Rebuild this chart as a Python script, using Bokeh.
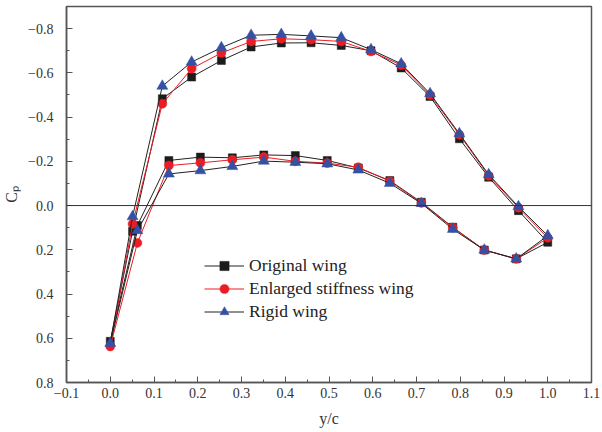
from bokeh.plotting import figure
from bokeh.models import (Range1d, FixedTicker, Span, Legend, LegendItem)
from bokeh.embed import file_html
from bokeh.resources import INLINE

# ---------------- data ----------------
x_upper = [0.0, 0.051, 0.119, 0.186, 0.254, 0.322, 0.391, 0.459, 0.528,
           0.596, 0.665, 0.731, 0.798, 0.865, 0.933, 1.0]
x_lower = [0.062, 0.134, 0.206, 0.279, 0.351, 0.423, 0.496, 0.567,
           0.639, 0.711, 0.783, 0.855, 0.928]

orig_upper = [0.614, 0.116, -0.483, -0.581, -0.656, -0.717, -0.735, -0.736,
              -0.724, -0.700, -0.622, -0.493, -0.302, -0.128, 0.023, 0.166]
orig_lower = [0.090, -0.204, -0.219, -0.216, -0.229, -0.226, -0.204, -0.170,
              -0.113, -0.015, 0.098, 0.201, 0.241]

enl_upper = [0.637, 0.083, -0.460, -0.619, -0.690, -0.742, -0.754, -0.750,
             -0.742, -0.697, -0.635, -0.500, -0.320, -0.135, 0.010, 0.146]
enl_lower = [0.169, -0.181, -0.193, -0.207, -0.219, -0.200, -0.192, -0.173,
             -0.110, -0.012, 0.100, 0.201, 0.241]

rig_upper = [0.623, 0.050, -0.540, -0.649, -0.714, -0.770, -0.774, -0.767,
             -0.759, -0.705, -0.641, -0.506, -0.325, -0.140, 0.005, 0.136]
rig_lower = [0.113, -0.143, -0.158, -0.177, -0.201, -0.196, -0.189, -0.161,
             -0.101, -0.010, 0.107, 0.201, 0.241]

series_names = ["Original wing", "Enlarged stiffness wing", "Rigid wing"]

x_ticks = [-0.1, 0.0, 0.1, 0.2, 0.3, 0.4, 0.5, 0.6, 0.7, 0.8, 0.9, 1.0, 1.1]
x_tick_labels = ["\u22120.1", "0.0", "0.1", "0.2", "0.3", "0.4", "0.5", "0.6",
                 "0.7", "0.8", "0.9", "1.0", "1.1"]
y_ticks = [-0.8, -0.6, -0.4, -0.2, 0.0, 0.2, 0.4, 0.6, 0.8]
y_tick_labels = ["\u22120.8", "\u22120.6", "\u22120.4", "\u22120.2", "0.0",
                 "0.2", "0.4", "0.6", "0.8"]

# ---------------- figure ----------------
p = figure(width=600, height=432, output_backend="svg", toolbar_location=None,
           x_range=Range1d(-0.1, 1.1), y_range=Range1d(0.8, -0.9),
           min_border_left=65, min_border_right=9, min_border_top=6,
           min_border_bottom=50)
p.grid.visible = False
p.background_fill_color = "white"
p.border_fill_color = "white"
p.outline_line_color = "#555555"
p.outline_line_width = 1.5

x_minor = [(a + b) / 2 for a, b in zip(x_ticks[:-1], x_ticks[1:])]
y_minor = [(a + b) / 2 for a, b in zip(y_ticks[:-1], y_ticks[1:])]
p.xaxis.ticker = FixedTicker(ticks=x_ticks, minor_ticks=x_minor)
p.yaxis.ticker = FixedTicker(ticks=y_ticks, minor_ticks=y_minor)
p.xaxis.major_label_overrides = {t: l for t, l in zip(x_ticks, x_tick_labels)}
p.yaxis.major_label_overrides = {t: l for t, l in zip(y_ticks, y_tick_labels)}

for ax in (p.xaxis, p.yaxis):
    ax.axis_line_color = "#555555"
    ax.axis_line_width = 1.5
    ax.major_tick_line_color = "#555555"
    ax.minor_tick_line_color = "#555555"
    ax.major_tick_in = 6
    ax.major_tick_out = 0
    ax.minor_tick_in = 3
    ax.minor_tick_out = 0
    ax.major_label_text_font = "Liberation Serif"
    ax.major_label_text_font_size = "14px"
    ax.major_label_text_color = "#333333"
    ax.axis_label_text_font = "Liberation Serif"
    ax.axis_label_text_font_size = "16px"
    ax.axis_label_text_font_style = "normal"
    ax.axis_label_text_color = "#333333"

p.yaxis.major_label_standoff = 13
p.xaxis.major_label_standoff = 5
p.xaxis.axis_label = "y/c"
p.xaxis.axis_label_standoff = 9
p.yaxis.axis_label = "C\u209a"
p.yaxis.axis_label_standoff = 5

# zero line
p.add_layout(Span(location=0, dimension="width", line_color="#333333",
                  line_width=1))

# ---------------- series ----------------
def loop(up, lo):
    return list(up) + list(reversed(lo)) + [up[0]]

styles = [
    dict(line="#222222", marker="square", fill="#1c1c1c", size=8),
    dict(line="#ec1c24", marker="circle", fill="#ec1c24", size=9),
    dict(line="#222222", marker="triangle", fill="#3451a3", size=11),
]
data = [(orig_upper, orig_lower), (enl_upper, enl_lower), (rig_upper, rig_lower)]

items = []
for name, (up, lo), st in zip(series_names, data, styles):
    lr = p.line(loop(x_upper, x_lower), loop(up, lo),
                line_color=st["line"], line_width=1)
    sr = p.scatter(list(x_upper) + list(x_lower), list(up) + list(lo),
                   marker=st["marker"], size=st["size"], fill_color=st["fill"],
                   line_color=st["fill"], line_width=0.5)
    items.append(LegendItem(label=name, renderers=[lr, sr]))

legend = Legend(items=items, location=(138, 59), padding=0, margin=0,
                spacing=0, glyph_width=40, glyph_height=23, label_height=23,
                label_standoff=5, border_line_alpha=0, background_fill_alpha=0,
                label_text_font="Liberation Serif", label_text_font_size="17.5px",
                label_text_color="#222222")
p.add_layout(legend)

open("out.html", "w").write(file_html(p, INLINE))
